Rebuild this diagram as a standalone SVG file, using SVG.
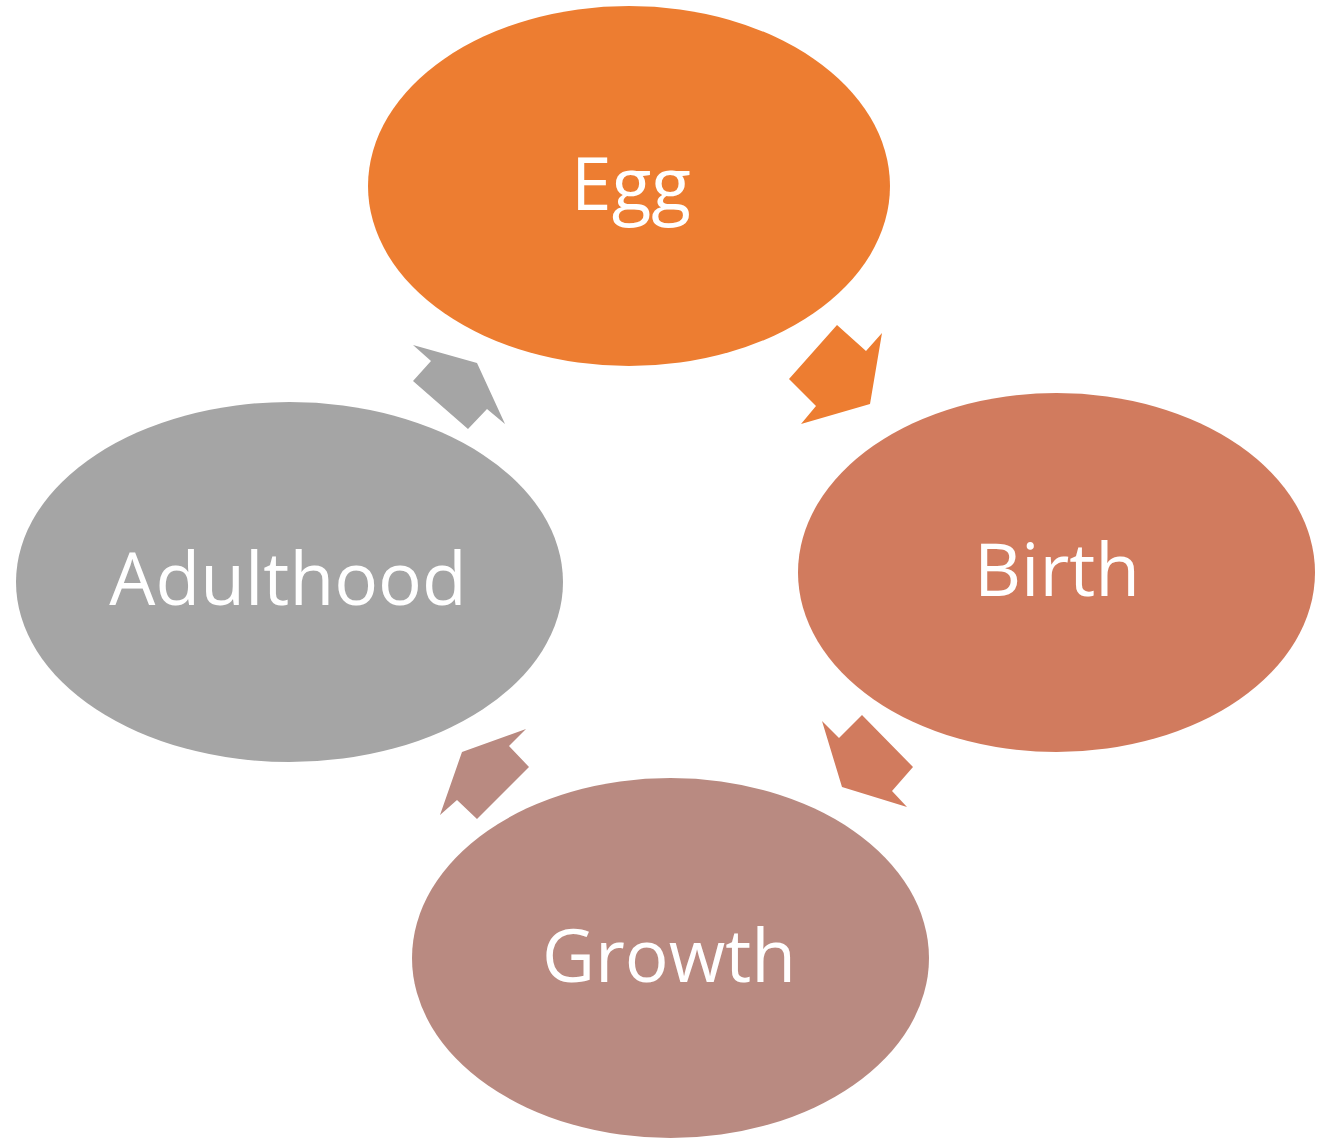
<svg xmlns="http://www.w3.org/2000/svg" width="1329" height="1138" viewBox="0 0 1329 1138">
<style>
.lbl{font-family:"Open Sans","Noto Sans",sans-serif;font-size:73px;fill:#fff;text-anchor:middle}
</style>
<rect width="1329" height="1138" fill="#fff"/>
<g id="connectors">
<polygon points="837,325 866,351 882,333 870,404 801,424 816,406 789,379" fill="#ED7D31"/>
<polygon points="822,721 839,738 862,715 913,767 892,791 907,807 842,787" fill="#D17B5E"/>
<polygon points="526,729 509,746 529,767 477,819 457,800 440,815 462,752" fill="#B98A81"/>
<polygon points="413,345 431,361 413,381 468,429 487,409 505,424 477,363" fill="#A5A5A5"/>
</g>
<g id="egg">
<ellipse cx="629" cy="186" rx="261" ry="180" fill="#ED7D31"/>
<text class="lbl" x="631" y="210">Egg</text>
</g>
<g id="birth">
<ellipse cx="1056.5" cy="572.5" rx="258.5" ry="179.5" fill="#D17B5E"/>
<text class="lbl" x="1057" y="596">Birth</text>
</g>
<g id="growth">
<ellipse cx="670.5" cy="958" rx="258.5" ry="180" fill="#B98A81"/>
<text class="lbl" x="669" y="982">Growth</text>
</g>
<g id="adulthood">
<ellipse cx="289.5" cy="582" rx="273.5" ry="180" fill="#A5A5A5"/>
<text class="lbl" x="288" y="605">Adulthood</text>
</g>
</svg>
